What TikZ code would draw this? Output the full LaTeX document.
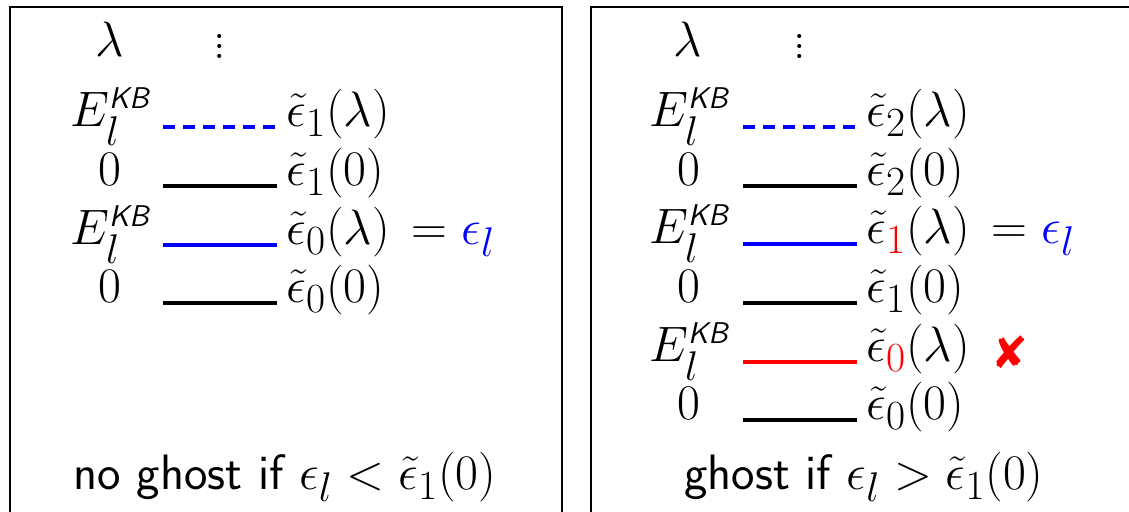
\documentclass[tikz,border=0pt]{standalone}
\usepackage{amsmath}
\usepackage{fontspec}
\usepackage{tikz}
\newfontfamily\crossfont{DejaVu Sans}
\newcommand{\bigsize}{\fontsize{24.88}{30}\selectfont}
\newcommand{\EKB}{$E_l^{\mbox{\fontsize{15}{18}\selectfont\sffamily\itshape KB}}$}
\newcommand{\tallvdots}{\vbox{\bigsize\baselineskip5.2pt\lineskiplimit0pt\kern6pt\hbox{.}\hbox{.}\hbox{.}}}
\tikzset{
  panel/.style    = {draw, line width=1pt},
  lvl/.style      = {line width=2pt},
  ghostlvl/.style = {lvl, blue, dash pattern=on 6.1pt off 3.9pt},
  lbl/.style      = {inner sep=0pt, anchor=base, font=\bigsize},
  eig/.style      = {inner sep=0pt, anchor=base west, xshift=4.5pt, font=\bigsize},
  note/.style     = {inner sep=0pt, anchor=base, font=\bigsize\sffamily},
}

\begin{document}
\begin{tikzpicture}[x=0.5pt, y=-0.5pt]
  \useasboundingbox (0,0) rectangle (1129,512);
  \clip (0,0) rectangle (1129,512);
  % left panel: no ghost
  \draw[panel] (10,7) rectangle (561.5,540);
  \node[lbl] (lamA) at (110,57) {$\lambda$};
  \node[lbl] (dotsA) at (220,59) {\tallvdots};
  \coordinate (a1w) at (163,127); \coordinate (a1e) at (277,127);
  \coordinate (a2w) at (163,186); \coordinate (a2e) at (277,186);
  \coordinate (a3w) at (163,245); \coordinate (a3e) at (277,245);
  \coordinate (a4w) at (163,303); \coordinate (a4e) at (277,303);
  \draw[ghostlvl] (a1w) -- (a1e);
  \draw[lvl] (a2w) -- (a2e);
  \draw[lvl, blue] (a3w) -- (a3e);
  \draw[lvl] (a4w) -- (a4e);
  \node[lbl] (ka1) at (110,127) {\EKB};
  \node[lbl] (ka2) at (110,186) {$0$};
  \node[lbl] (ka3) at (110,245) {\EKB};
  \node[lbl] (ka4) at (110,303) {$0$};
  \node[eig] (ea1) at (a1e) {$\tilde\epsilon_1(\lambda)$};
  \node[eig] (ea2) at (a2e) {$\tilde\epsilon_1(0)$};
  \node[eig] (ea3) at (a3e) {$\tilde\epsilon_0(\lambda)\,= {\color{blue}\epsilon_l}$};
  \node[eig] (ea4) at (a4e) {$\tilde\epsilon_0(0)$};
  \node[note] (noteA) at (285,490) {no ghost if $\epsilon_l < \tilde\epsilon_1(0)$};
  % right panel: ghost
  \begin{scope}[xshift=290pt]
    \draw[panel] (10.5,7) rectangle (570,540);
    \node[lbl] (lamB) at (108,57) {$\lambda$};
    \node[lbl] (dotsB) at (220,59) {\tallvdots};
    \coordinate (b1w) at (163,127); \coordinate (b1e) at (277,127);
    \coordinate (b2w) at (163,186); \coordinate (b2e) at (277,186);
    \coordinate (b3w) at (163,244); \coordinate (b3e) at (277,244);
    \coordinate (b4w) at (163,303); \coordinate (b4e) at (277,303);
    \coordinate (b5w) at (163,362); \coordinate (b5e) at (277,362);
    \coordinate (b6w) at (163,420); \coordinate (b6e) at (277,420);
    \draw[ghostlvl] (b1w) -- (b1e);
    \draw[lvl] (b2w) -- (b2e);
    \draw[lvl, blue] (b3w) -- (b3e);
    \draw[lvl] (b4w) -- (b4e);
    \draw[lvl, red] (b5w) -- (b5e);
    \draw[lvl] (b6w) -- (b6e);
    \node[lbl] (kb1) at (109,127) {\EKB};
    \node[lbl] (kb2) at (109,186) {$0$};
    \node[lbl] (kb3) at (109,244) {\EKB};
    \node[lbl] (kb4) at (109,303) {$0$};
    \node[lbl] (kb5) at (109,362) {\EKB};
    \node[lbl] (kb6) at (109,420) {$0$};
    \node[eig] (eb1) at (b1e) {$\tilde\epsilon_2(\lambda)$};
    \node[eig] (eb2) at (b2e) {$\tilde\epsilon_2(0)$};
    \node[eig] (eb3) at (b3e) {$\tilde\epsilon_{\color{red}1}(\lambda)\,= {\color{blue}\epsilon_l}$};
    \node[eig] (eb4) at (b4e) {$\tilde\epsilon_1(0)$};
    \node[eig] (eb5) at (b5e) {$\tilde\epsilon_{\color{red}0}(\lambda)$};
    \node[eig] (eb6) at (b6e) {$\tilde\epsilon_0(0)$};
    \node[font=\fontsize{22}{26}\selectfont\crossfont, text=red, inner sep=0pt] (cross) at (430,352) {✘};
    \node[note] (noteB) at (284,490) {ghost if $\epsilon_l > \tilde\epsilon_1(0)$};
  \end{scope}
\end{tikzpicture}
\end{document}
